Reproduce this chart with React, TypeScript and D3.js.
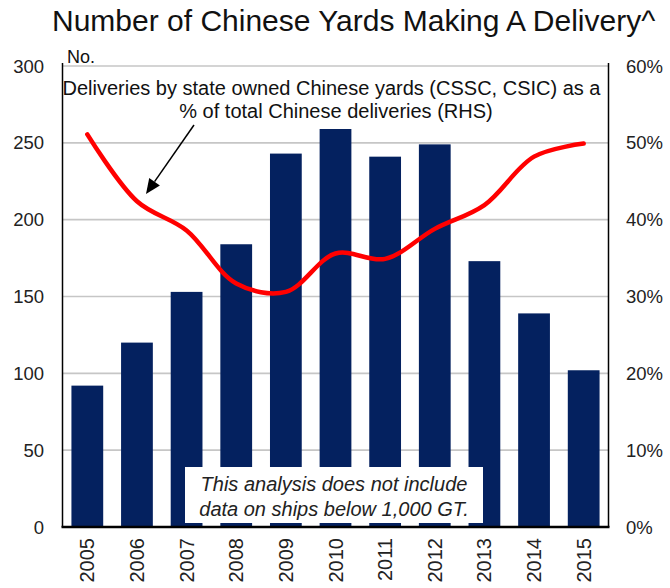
import React from "react";
import * as d3 from "d3";

const years = ["2005","2006","2007","2008","2009","2010","2011","2012","2013","2014","2015"];
const yardCounts = [92, 120, 153, 184, 243, 259, 241, 249, 173, 139, 102];
const stateShare = [51.1, 42.4, 38.6, 31.7, 30.6, 35.6, 34.9, 38.8, 41.9, 48.2, 49.9];
const leftTicks = [0, 50, 100, 150, 200, 250, 300];
const rightTicks = [0, 10, 20, 30, 40, 50, 60];

const W = 670, H = 588;
const X0 = 62.5, X1 = 608.5, Y0 = 527, Y1 = 66;
const FONT = "'Liberation Sans', Arial, Helvetica, sans-serif";

export default function App() {
  const x = d3.scaleBand<string>().domain(years).range([X0, X1]).paddingInner(0.36).paddingOuter(0.18);
  const xc = (d: string) => (x(d) as number) + x.bandwidth() / 2;
  const yL = d3.scaleLinear().domain([0, 300]).range([Y0, Y1]);
  const yR = d3.scaleLinear().domain([0, 60]).range([Y0, Y1]);
  const line = d3.line<number>()
    .x((_, i) => xc(years[i]))
    .y((d) => yR(d))
    .curve(d3.curveCatmullRom.alpha(0.5));

  // arrow
  const ax1 = 194, ay1 = 125, ax2 = 146, ay2 = 194;
  const ang = Math.atan2(ay2 - ay1, ax2 - ax1);
  const hl = 15, hw = 6.5;
  const bx = ax2 - hl * Math.cos(ang), by = ay2 - hl * Math.sin(ang);
  const head = [
    [ax2, ay2],
    [bx + hw * Math.sin(ang), by - hw * Math.cos(ang)],
    [bx - hw * Math.sin(ang), by + hw * Math.cos(ang)],
  ].map((p) => p.join(",")).join(" ");

  return (
    <svg width={W} height={H} style={{ position: "absolute", left: 0, top: 0, background: "#fff" }} fontFamily={FONT}>
      <rect x={0} y={0} width={W} height={H} fill="#fff" />
      {/* gridlines */}
      {leftTicks.filter((t) => t > 0).map((t) => (
        <line key={t} x1={X0} x2={X1} y1={yL(t)} y2={yL(t)} stroke="#c6c6c6" strokeWidth={1.6} />
      ))}
      {/* bars */}
      {years.map((yr, i) => (
        <rect key={yr} x={x(yr)} y={yL(yardCounts[i])} width={x.bandwidth()} height={Y0 - yL(yardCounts[i])} fill="#04215f" />
      ))}
      {/* note box */}
      <rect x={185} y={467} width={298} height={56} fill="#fff" />
      <text x={334} y={491} textAnchor="middle" fontSize={20} fontStyle="italic" fill="#222">This analysis does not include</text>
      <text x={334} y={516} textAnchor="middle" fontSize={20} fontStyle="italic" fill="#222">data on ships below 1,000 GT.</text>
      {/* red line */}
      <path d={line(stateShare) as string} fill="none" stroke="#ff0000" strokeWidth={4.5} strokeLinecap="round" strokeLinejoin="round" />
      {/* axes */}
      <line x1={X0} x2={X0} y1={Y1 - 3} y2={Y0} stroke="#000" strokeWidth={1.5} />
      <line x1={X1} x2={X1} y1={Y1 - 3} y2={Y0} stroke="#000" strokeWidth={1.5} />
      <line x1={X0 - 1} x2={X1 + 1} y1={Y0} y2={Y0} stroke="#000" strokeWidth={2.5} />
      {/* left ticks */}
      {leftTicks.map((t) => (
        <text key={t} x={44} y={yL(t)} textAnchor="end" dominantBaseline="central" fontSize={18.5} fill="#222">{t}</text>
      ))}
      {/* right ticks */}
      {rightTicks.map((t) => (
        <text key={t} x={626} y={yR(t)} textAnchor="start" dominantBaseline="central" fontSize={18.5} fill="#222">{t + "%"}</text>
      ))}
      {/* x labels */}
      {years.map((yr) => (
        <text key={yr} transform={`translate(${xc(yr)},538) rotate(-90)`} textAnchor="end" dominantBaseline="central" fontSize={20} fill="#222">{yr}</text>
      ))}
      {/* title */}
      <text x={52} y={31} fontSize={30} fill="#111">Number of Chinese Yards Making A Delivery^</text>
      <text x={67} y={63} fontSize={18} fill="#111">No.</text>
      {/* annotation */}
      <text x={331.5} y={95} textAnchor="middle" fontSize={20} fill="#111">Deliveries by state owned Chinese yards (CSSC, CSIC) as a</text>
      <text x={336} y={118} textAnchor="middle" fontSize={20} fill="#111">% of total Chinese deliveries (RHS)</text>
      {/* arrow */}
      <line x1={ax1} y1={ay1} x2={bx} y2={by} stroke="#000" strokeWidth={1.5} />
      <polygon points={head} fill="#000" />
    </svg>
  );
}
